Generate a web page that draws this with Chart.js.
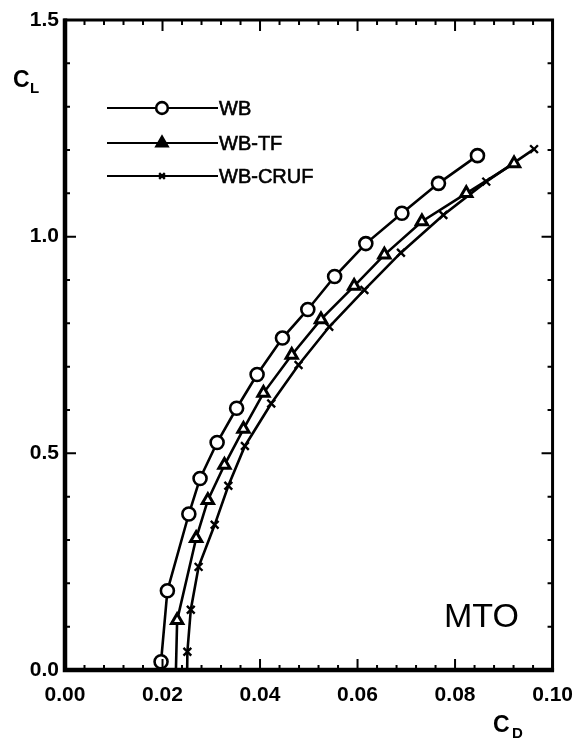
<!DOCTYPE html>
<html><head><meta charset="utf-8">
<script src="https://cdn.jsdelivr.net/npm/chart.js@4.4.1/dist/chart.umd.min.js"></script>
<style>html,body{margin:0;padding:0;background:#fff;}#wrap{width:586px;height:740px;}</style>
</head><body><div id="wrap"><canvas id="c" width="586" height="740"></canvas></div>
<script>
// ---- data ----
const seriesNames = ['WB', 'WB-TF', 'WB-CRUF'];
const wbCD = [0.0197,0.0210,0.0254,0.0277,0.0312,0.0352,0.0394,0.0446,0.0498,0.0553,0.0617,0.0691,0.0766,0.0846];
const wbCL = [0.019,0.183,0.360,0.442,0.525,0.604,0.682,0.766,0.832,0.908,0.984,1.054,1.123,1.187];
const tfCD = [0.0226,0.0230,0.0269,0.0293,0.0327,0.0366,0.0407,0.0465,0.0525,0.0593,0.0655,0.0732,0.0823,0.0921];
const tfCL = [-0.07,0.115,0.304,0.392,0.473,0.556,0.639,0.727,0.809,0.886,0.958,1.035,1.100,1.169];
const crufCD = [0.0250,0.0251,0.0258,0.0274,0.0307,0.0335,0.0369,0.0423,0.0479,0.0542,0.0614,0.0689,0.0776,0.0864,0.0962];
const crufCL = [-0.06,0.042,0.139,0.238,0.335,0.425,0.517,0.615,0.704,0.792,0.877,0.963,1.050,1.127,1.202];
const xTickLabels = ['0.00','0.02','0.04','0.06','0.08','0.10'];
const yTickLabels = ['0.0','0.5','1.0','1.5'];
const xMinorStep = 0.004, yMinorStep = 0.1;
const annotationText = 'MTO';

const toPts = (xs, ys) => xs.map((x, i) => ({x: x, y: ys[i]}));
const FONT = '"Liberation Sans", Arial, Helvetica, sans-serif';

const frameAndText = {
  id: 'frameAndText',
  afterDatasetsDraw(chart) {
    const ctx = chart.ctx, a = chart.chartArea;
    const xs = chart.scales.x, ys = chart.scales.y;
    ctx.save();
    ctx.strokeStyle = '#000';
    // ticks (inward, all four sides)
    ctx.lineWidth = 2;
    const nx = Math.round((xs.max - xs.min) / xMinorStep);
    for (let i = 0; i <= nx; i++) {
      const v = xs.min + i * xMinorStep;
      const px = xs.getPixelForValue(v);
      const major = (i % 5 === 0);
      const len = major ? 11 : 5;
      ctx.beginPath();
      ctx.moveTo(px, a.bottom); ctx.lineTo(px, a.bottom - len);
      ctx.moveTo(px, a.top); ctx.lineTo(px, a.top + len);
      ctx.stroke();
    }
    const ny = Math.round((ys.max - ys.min) / yMinorStep);
    for (let i = 0; i <= ny; i++) {
      const v = ys.min + i * yMinorStep;
      const py = ys.getPixelForValue(v);
      const major = (i % 5 === 0);
      const len = major ? 11 : 5;
      ctx.beginPath();
      ctx.moveTo(a.left, py); ctx.lineTo(a.left + len, py);
      ctx.moveTo(a.right, py); ctx.lineTo(a.right - len, py);
      ctx.stroke();
    }
    // frame
    ctx.lineWidth = 3;
    ctx.strokeRect(a.left, a.top, a.right - a.left, a.bottom - a.top);
    ctx.lineWidth = 4.5;
    ctx.beginPath();
    ctx.moveTo(a.left, a.top - 1.5); ctx.lineTo(a.left, a.bottom); ctx.lineTo(a.right + 1.5, a.bottom);
    ctx.stroke();

    // legend
    const rows = [108, 143, 176];
    chart.data.datasets.forEach((ds, i) => {
      const y = rows[i];
      ctx.lineWidth = 2.2;
      ctx.strokeStyle = '#000';
      ctx.beginPath(); ctx.moveTo(107, y); ctx.lineTo(218, y); ctx.stroke();
      const opt = {
        pointStyle: ds.pointStyle,
        radius: ds.pointStyle === 'crossRot' ? 4 : ds.pointRadius * 0.9,
        borderWidth: ds.pointBorderWidth,
        rotation: 0
      };
      ctx.fillStyle = (ds.pointStyle === 'triangle') ? '#000' : '#fff';
      ctx.strokeStyle = '#000';
      ctx.lineWidth = ds.pointBorderWidth;
      Chart.helpers.drawPoint(ctx, opt, 162, y);
      ctx.fillStyle = '#000';
      ctx.strokeStyle = '#000';
      ctx.lineWidth = 0.6;
      ctx.font = '20px ' + FONT;
      ctx.textAlign = 'left'; ctx.textBaseline = 'middle';
      ctx.fillText(ds.label, 219, y + 1);
      ctx.strokeText(ds.label, 219, y + 1);
    });

    // axis titles
    ctx.fillStyle = '#000';
    ctx.textBaseline = 'alphabetic';
    ctx.textAlign = 'left';
    ctx.font = 'bold 23px ' + FONT;
    ctx.fillText('C', 13, 87);
    ctx.font = 'bold 15px ' + FONT;
    ctx.fillText('L', 30, 93);
    ctx.font = 'bold 23px ' + FONT;
    ctx.fillText('C', 493, 732);
    ctx.font = 'bold 15px ' + FONT;
    ctx.fillText('D', 512, 738);

    // annotation
    ctx.font = '34px ' + FONT;
    ctx.fillText(annotationText, 444, 627);
    ctx.restore();
  }
};

const common = {showLine: true, borderColor: '#000', borderWidth: 2.6, tension: 0,
  pointBorderColor: '#000', pointBackgroundColor: '#fff', clip: 0};

new Chart(document.getElementById('c'), {
  type: 'scatter',
  data: {
    datasets: [
      Object.assign({}, common, {label: seriesNames[0], data: toPts(wbCD, wbCL),
        pointStyle: 'circle', pointRadius: 6.5, pointBorderWidth: 2.6}),
      Object.assign({}, common, {label: seriesNames[1], data: toPts(tfCD, tfCL),
        pointStyle: 'triangle', pointRadius: 6.5, pointBorderWidth: 3}),
      Object.assign({}, common, {label: seriesNames[2], data: toPts(crufCD, crufCL),
        pointStyle: 'crossRot', pointRadius: 5.5, pointBorderWidth: 2.4})
    ]
  },
  options: {
    responsive: false,
    devicePixelRatio: 1,
    animation: false,
    events: [],
    layout: {padding: {top: 20, right: 29, left: 0, bottom: 0}},
    plugins: {legend: {display: false}, tooltip: {enabled: false}},
    scales: {
      x: {
        type: 'linear', min: 0, max: 0.1,
        afterFit: s => { s.height = 70; },
        grid: {display: false, drawTicks: false},
        border: {display: false},
        ticks: {stepSize: 0.02, padding: 13, color: '#000', maxRotation: 0,
          font: {family: FONT, size: 21, weight: 'bold'},
          callback: (v) => { const i = Math.round(v / 0.02); return xTickLabels[i]; }}
      },
      y: {
        type: 'linear', min: 0, max: 1.5,
        afterFit: s => { s.width = 65; },
        grid: {display: false, drawTicks: false},
        border: {display: false},
        ticks: {stepSize: 0.5, padding: 6, color: '#000',
          font: {family: FONT, size: 21, weight: 'bold'},
          callback: (v) => { const i = Math.round(v / 0.5); return yTickLabels[i]; }}
      }
    }
  },
  plugins: [frameAndText]
});
</script>
</body></html>
